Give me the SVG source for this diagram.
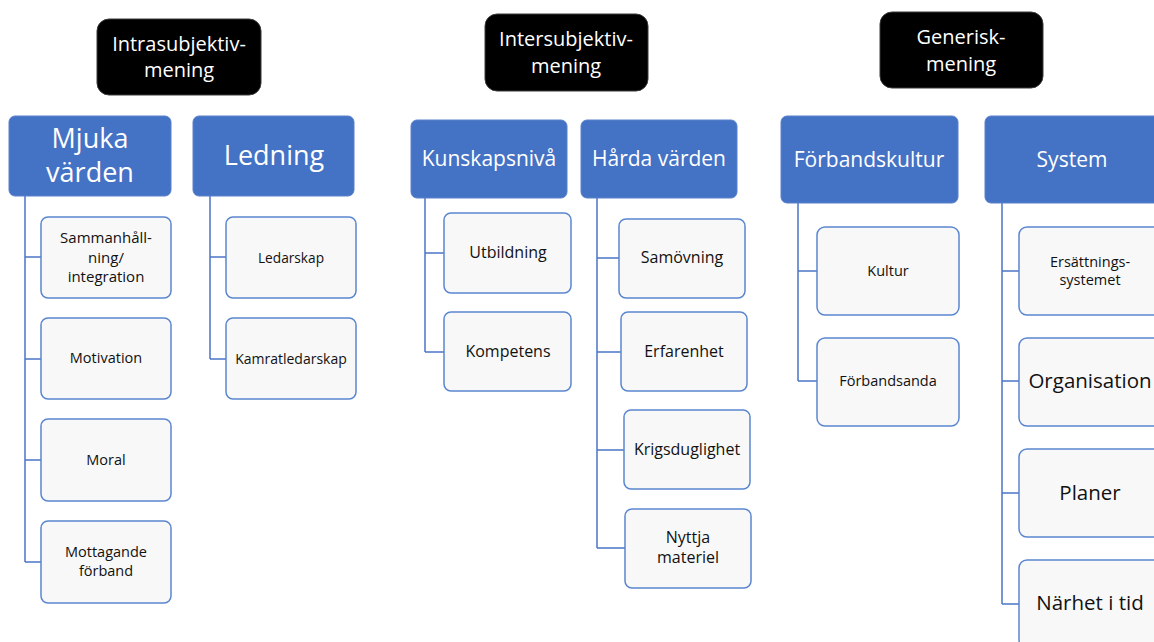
<svg xmlns="http://www.w3.org/2000/svg" width="1154" height="642" viewBox="0 0 1154 642">
<style>
text{font-family:"Open Sans","Liberation Sans",sans-serif;text-anchor:middle}
.top rect{fill:#000;stroke:#3a3a3a;stroke-width:1}
.top text{fill:#fff;font-size:20px}
.hdr rect{fill:#4472C4;stroke:#5b82cc;stroke-width:1}
.hdr text{fill:#fff}
.leaf rect{fill:#f8f8f8;stroke:#5a86d0;stroke-width:1.5}
.leaf text{fill:#111}
.conn path{fill:none;stroke:#4a76c6;stroke-width:1.5}
</style>
<rect width="1154" height="642" fill="#fff"/>
<g class="conn">
<path d="M25 196V562M25 257H41M25 359H41M25 460H41M25 562H41"/>
<path d="M210 196V359M210 257H226M210 359H226"/>
<path d="M425 198V352M425 253H444M425 352H444"/>
<path d="M597 198V548M597 258H619M597 352H621M597 450H624M597 548H625"/>
<path d="M798 203V381M798 271H817M798 381H817"/>
<path d="M1002 203V604M1002 271H1019M1002 381H1019M1002 493H1019M1002 604H1019"/>
</g>
<g id="intra" class="top"><rect x="97" y="19" width="164" height="76" rx="12"/><text x="179" y="51">Intrasubjektiv-</text><text x="179" y="77">mening</text></g>
<g id="inter" class="top"><rect x="485" y="14" width="163" height="77" rx="12"/><text x="566" y="46">Intersubjektiv-</text><text x="566" y="73">mening</text></g>
<g id="gen" class="top"><rect x="880" y="12" width="163" height="76" rx="12"/><text x="961" y="44">Generisk-</text><text x="961" y="71">mening</text></g>

<g id="mjuka" class="hdr"><rect x="9" y="116" width="162" height="80" rx="6"/><text x="90" y="148" font-size="27">Mjuka</text><text x="90" y="182" font-size="27">värden</text></g>
<g id="ledning" class="hdr"><rect x="193" y="116" width="161" height="80" rx="6"/><text x="274" y="165" font-size="27">Ledning</text></g>
<g id="kunskap" class="hdr"><rect x="411" y="120" width="156" height="78" rx="6"/><text x="489" y="166" font-size="21">Kunskapsnivå</text></g>
<g id="harda" class="hdr"><rect x="581" y="120" width="156" height="78" rx="6"/><text x="659" y="166" font-size="21">Hårda värden</text></g>
<g id="forbandskultur" class="hdr"><rect x="781" y="116" width="177" height="87" rx="6"/><text x="869" y="167" font-size="21">Förbandskultur</text></g>
<g id="system" class="hdr"><rect x="985" y="116" width="176" height="87" rx="6"/><text x="1072" y="167" font-size="21">System</text></g>

<g id="sammanhallning" class="leaf"><rect x="41" y="217" width="130" height="81" rx="7"/><text x="106" y="243" font-size="15">Sammanhåll-</text><text x="106" y="263" font-size="15">ning/</text><text x="106" y="282" font-size="15">integration</text></g>
<g id="motivation" class="leaf"><rect x="41" y="318" width="130" height="81" rx="7"/><text x="106" y="363" font-size="14.5">Motivation</text></g>
<g id="moral" class="leaf"><rect x="41" y="419" width="130" height="82" rx="7"/><text x="106" y="465" font-size="14.5">Moral</text></g>
<g id="mottagande" class="leaf"><rect x="41" y="521" width="130" height="82" rx="7"/><text x="106" y="557" font-size="14.5">Mottagande</text><text x="106" y="576" font-size="14.5">förband</text></g>
<g id="ledarskap" class="leaf"><rect x="226" y="217" width="130" height="81" rx="7"/><text x="291" y="263" font-size="13.7">Ledarskap</text></g>
<g id="kamratledarskap" class="leaf"><rect x="226" y="318" width="130" height="81" rx="7"/><text x="291" y="364" font-size="14">Kamratledarskap</text></g>
<g id="utbildning" class="leaf"><rect x="444" y="213" width="127" height="80" rx="7"/><text x="508" y="258" font-size="16">Utbildning</text></g>
<g id="kompetens" class="leaf"><rect x="444" y="312" width="127" height="79" rx="7"/><text x="508" y="357" font-size="16">Kompetens</text></g>
<g id="samovning" class="leaf"><rect x="619" y="219" width="126" height="79" rx="7"/><text x="682" y="263" font-size="16">Samövning</text></g>
<g id="erfarenhet" class="leaf"><rect x="621" y="312" width="126" height="79" rx="7"/><text x="684" y="357" font-size="16">Erfarenhet</text></g>
<g id="krigsduglighet" class="leaf"><rect x="624" y="410" width="126" height="79" rx="7"/><text x="687" y="455" font-size="16">Krigsduglighet</text></g>
<g id="nyttja" class="leaf"><rect x="625" y="509" width="126" height="79" rx="7"/><text x="688" y="543" font-size="16">Nyttja</text><text x="688" y="563" font-size="16">materiel</text></g>
<g id="kultur" class="leaf"><rect x="817" y="227" width="142" height="88" rx="8"/><text x="888" y="276" font-size="14.5">Kultur</text></g>
<g id="forbandsanda" class="leaf"><rect x="817" y="338" width="142" height="88" rx="8"/><text x="888" y="386" font-size="14.5">Förbandsanda</text></g>
<g id="ersattning" class="leaf"><rect x="1019" y="227" width="142" height="88" rx="8"/><text x="1090" y="267" font-size="14.5">Ersättnings-</text><text x="1090" y="285" font-size="14.5">systemet</text></g>
<g id="organisation" class="leaf"><rect x="1019" y="338" width="142" height="88" rx="8"/><text x="1090" y="388" font-size="20.5">Organisation</text></g>
<g id="planer" class="leaf"><rect x="1019" y="449" width="142" height="88" rx="8"/><text x="1090" y="500" font-size="20.5">Planer</text></g>
<g id="narhet" class="leaf"><rect x="1019" y="560" width="142" height="88" rx="8"/><text x="1090" y="610" font-size="20.5">Närhet i tid</text></g>
</svg>
